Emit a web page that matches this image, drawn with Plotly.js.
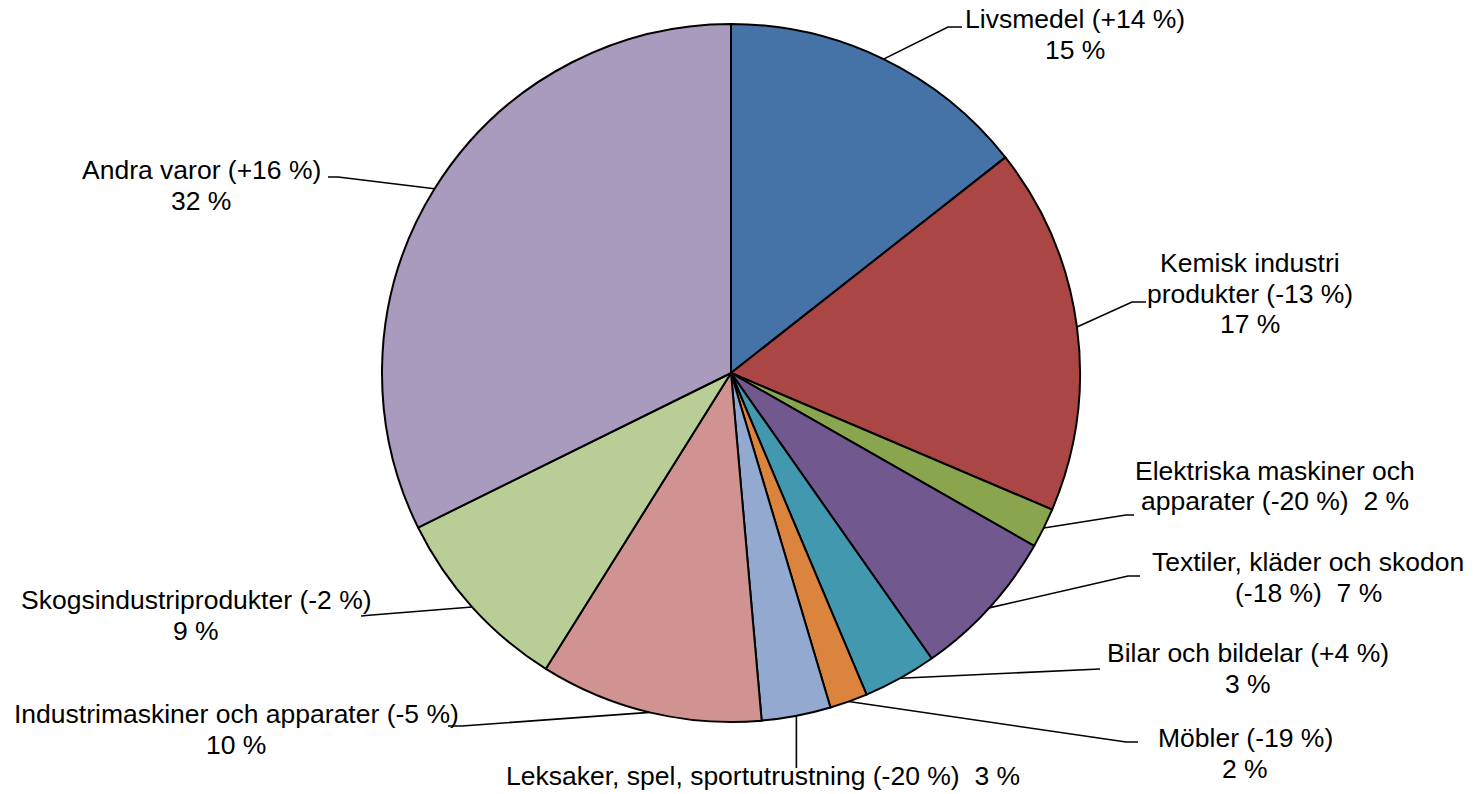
<!DOCTYPE html>
<html>
<head>
<meta charset="utf-8">
<script src="https://cdn.plot.ly/plotly-3.0.1.min.js"></script>
<style>html,body{margin:0;padding:0;background:#fff;}#chart{width:1477px;height:794px;}</style>
</head>
<body>
<div id="chart"></div>
<script>
// ---- data ----
const categories = ["Livsmedel", "Kemisk industri produkter", "Elektriska maskiner och apparater",
  "Textiler, kläder och skodon", "Bilar och bildelar", "Möbler",
  "Leksaker, spel, sportutrustning", "Industrimaskiner och apparater",
  "Skogsindustriprodukter", "Andra varor"];
const changes = ["+14 %", "-13 %", "-20 %", "-18 %", "+4 %", "-19 %", "-20 %", "-5 %", "-2 %", "+16 %"];
const values = [14.4, 17.0, 1.85, 7.0, 3.4, 1.75, 3.2, 10.3, 8.8, 32.3];
const shareLabels = ["15 %", "17 %", "2 %", "7 %", "3 %", "2 %", "3 %", "10 %", "9 %", "32 %"];
const colors = ["#4572A7", "#AA4643", "#89A54E", "#71588F", "#4198AF", "#DB843D",
  "#93A9CF", "#D19392", "#B9CD96", "#A99BBD"];

// ---- layout config (pixels) ----
const W = 1477, H = 794;
const CX = 731, CY = 373, R = 349;
const NB = "\u00a0";
// label lines per slice
const labelLines = [
  [categories[0] + " (" + changes[0] + ")", shareLabels[0]],
  ["Kemisk industri", "produkter (" + changes[1] + ")", shareLabels[1]],
  ["Elektriska maskiner och", "apparater (" + changes[2] + ")" + NB + NB + shareLabels[2]],
  [categories[3], "(" + changes[3] + ")" + NB + NB + shareLabels[3]],
  [categories[4] + " (" + changes[4] + ")", shareLabels[4]],
  [categories[5] + " (" + changes[5] + ")", shareLabels[5]],
  [categories[6] + " (" + changes[6] + ")" + NB + NB + shareLabels[6]],
  [categories[7] + " (" + changes[7] + ")", shareLabels[7]],
  [categories[8] + " (" + changes[8] + ")", shareLabels[8]],
  [categories[9] + " (" + changes[9] + ")", shareLabels[9]]
];
// label center x, first line center y
const labelPos = [[1075, 19], [1250, 263], [1275, 471], [1308, 562], [1248, 653],
  [1245, 738], [763, 776], [236, 714], [196, 600], [201, 170]];
const LINE_H = 30.5;
// leader line path after the edge point
const leaderPts = [
  [[948, 27], [962, 27]],
  [[1132, 302], [1146, 302]],
  [[1126, 515], [1134, 515]],
  [[1128, 576], [1140, 576]],
  [[1100, 669]],
  [[1126, 742], [1138, 742]],
  [[null, 768]],
  [[462, 726], [448, 726]],
  [[372, 615], [361, 616]],
  [[338, 177], [328, 177]]
];

const px = x => x / W;
const py = y => 1 - y / H;

const total = values.reduce((a, b) => a + b, 0);
const shapes = [];
const annotations = [];
let cum = 0;
values.forEach((v, i) => {
  const midFrac = (cum + v / 2) / total;
  cum += v;
  const ang = midFrac * 2 * Math.PI;
  const ex = CX + R * Math.sin(ang);
  const ey = CY - R * Math.cos(ang);
  let path = "M" + px(ex) + "," + py(ey);
  leaderPts[i].forEach(p => {
    const x = p[0] === null ? ex : p[0];
    path += " L" + px(x) + "," + py(p[1]);
  });
  shapes.push({type: "path", xref: "paper", yref: "paper", path: path,
    line: {color: "#000", width: 1.6}});
  labelLines[i].forEach((t, k) => {
    annotations.push({xref: "paper", yref: "paper", x: px(labelPos[i][0]),
      y: py(labelPos[i][1] + k * LINE_H), xanchor: "center", yanchor: "middle",
      showarrow: false, text: t,
      font: {family: "Liberation Sans, Arial, sans-serif", size: 26.5, color: "#000"}});
  });
});

const trace = {
  type: "pie",
  labels: categories,
  values: values,
  sort: false,
  direction: "clockwise",
  rotation: 0,
  textinfo: "none",
  hoverinfo: "label+percent",
  marker: {colors: colors, line: {color: "#000", width: 2}},
  domain: {x: [(CX - R) / W, (CX + R) / W], y: [1 - (CY + R) / H, 1 - (CY - R) / H]},
  showlegend: false
};

const layout = {
  width: W, height: H,
  margin: {l: 0, r: 0, t: 0, b: 0},
  paper_bgcolor: "#fff",
  showlegend: false,
  shapes: shapes,
  annotations: annotations
};

Plotly.newPlot("chart", [trace], layout, {displayModeBar: false, staticPlot: true});
</script>
</body>
</html>
